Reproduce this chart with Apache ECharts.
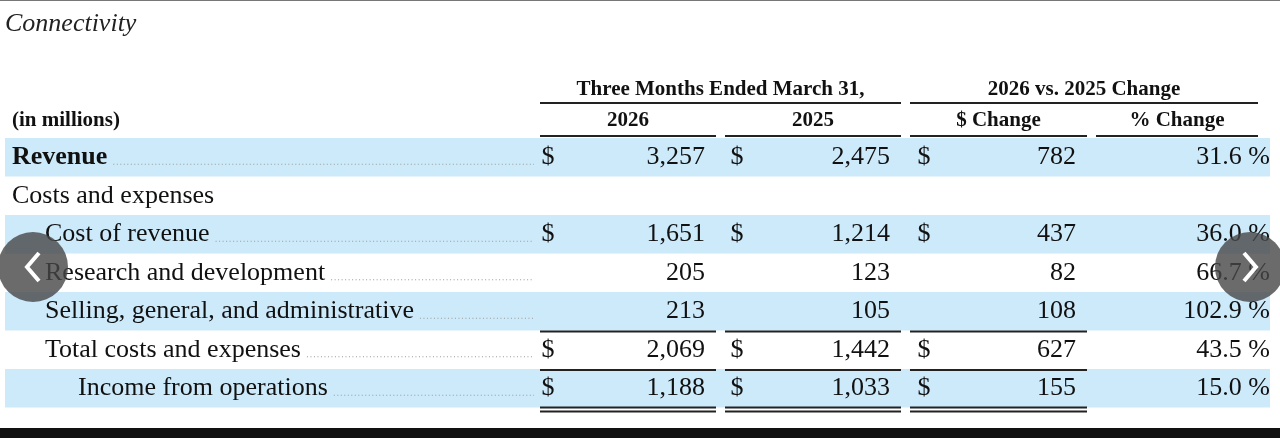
<!DOCTYPE html>
<html><head><meta charset="utf-8">
<script src="https://cdn.jsdelivr.net/npm/echarts@6/dist/echarts.min.js"></script>
<style>html,body{margin:0;padding:0;background:#fff}#c{width:1280px;height:438px}</style>
</head><body><div id="c"></div>
<script>
const title = "Connectivity";
const groupHeaders = ["Three Months Ended March 31,", "2026 vs. 2025 Change"];
const colHeaders = ["2026", "2025", "$ Change", "% Change"];
const unitsLabel = "(in millions)";
const rowLabels = ["Revenue", "Costs and expenses", "Cost of revenue", "Research and development", "Selling, general, and administrative", "Total costs and expenses", "Income from operations"];
const v2026 = [3257, null, 1651, 205, 213, 2069, 1188];
const v2025 = [2475, null, 1214, 123, 105, 1442, 1033];
const changeAbs = [782, null, 437, 82, 108, 627, 155];
const changePct = [31.6, null, 36.0, 66.7, 102.9, 43.5, 15.0];
const showDollar = [true, false, true, false, false, true, true];

// layout (styles/positions)
const indent = [12, 12, 45, 45, 45, 45, 78];
const bold = [true, false, false, false, false, false, false];
const shaded = [true, false, true, false, true, false, true];
const hasLeader = [true, false, true, true, true, true, true];
const rowTop = 138, rowH = 38.5;
const FONT = '"Liberation Serif", "Times New Roman", serif';
const cols = [{l:540,r:716,d:548,v:705},{l:725,r:901,d:737,v:890},{l:910,r:1087,d:924,v:1076},{l:1096,r:1258,v:1270}];

const mctx = document.createElement('canvas').getContext('2d');
function tw(s, f){ mctx.font = f; return mctx.measureText(s).width; }
const fmt = v => v.toLocaleString('en-US');

const chart = echarts.init(document.getElementById('c'), null, {renderer:'canvas'});
function renderRow(params, api){
  const i = api.value(0);
  const y0 = api.coord([0, rowTop + i*rowH])[1];
  const yc = y0 + rowH/2;
  const X = x => api.coord([x, 0])[0];
  const ch = [];
  if (shaded[i]) ch.push({type:'rect', shape:{x:X(5), y:y0, width:X(1270)-X(5), height:rowH}, style:{fill:'#cdeafb'}});
  const lf = (bold[i]?'bold ':'') + '26px ' + FONT;
  ch.push({type:'text', style:{text:rowLabels[i], x:X(indent[i]), y:yc, font:lf, fill:'#111', verticalAlign:'middle'}});
  if (hasLeader[i]) {
    const sx = X(indent[i]) + tw(rowLabels[i], lf) + 6;
    ch.push({type:'line', shape:{x1:sx, y1:yc+7, x2:X(534), y2:yc+7}, style:{stroke:'#999', lineWidth:1, lineDash:[1,2.5]}});
  }
  const vals = [v2026[i], v2025[i], changeAbs[i]];
  const nf = '26px ' + FONT;
  vals.forEach((v, k) => {
    if (v == null) return;
    if (showDollar[i]) ch.push({type:'text', style:{text:'$', x:X(cols[k].d), y:yc, font:nf, fill:'#111', verticalAlign:'middle', align:'center'}});
    ch.push({type:'text', style:{text:fmt(v), x:X(cols[k].v), y:yc, font:nf, fill:'#111', verticalAlign:'middle', align:'right'}});
  });
  if (changePct[i] != null) ch.push({type:'text', style:{text:changePct[i].toFixed(1) + ' %', x:X(cols[3].v), y:yc, font:nf, fill:'#111', verticalAlign:'middle', align:'right'}});
  if (i === 5 || i === 6) for (let k=0;k<3;k++) ch.push({type:'line', shape:{x1:X(cols[k].l), y1:y0+1, x2:X(cols[k].r), y2:y0+1}, style:{stroke:'#222', lineWidth:2}});
  if (i === 6) for (let k=0;k<3;k++) {
    ch.push({type:'line', shape:{x1:X(cols[k].l), y1:y0+rowH, x2:X(cols[k].r), y2:y0+rowH}, style:{stroke:'#222', lineWidth:2}});
    ch.push({type:'line', shape:{x1:X(cols[k].l), y1:y0+rowH+4, x2:X(cols[k].r), y2:y0+rowH+4}, style:{stroke:'#222', lineWidth:2}});
  }
  return {type:'group', children:ch};
}
function renderHeader(params, api){
  const X = x => api.coord([x, 0])[0];
  const Y = y => api.coord([0, y])[1];
  const hf = 'bold 21px ' + FONT;
  const ch = [];
  ch.push({type:'text', style:{text:title, x:X(5), y:Y(24), font:'italic 26px ' + FONT, fill:'#222', verticalAlign:'middle'}});
  ch.push({type:'text', style:{text:groupHeaders[0], x:X((cols[0].l+cols[1].r)/2), y:Y(90), font:hf, fill:'#111', verticalAlign:'middle', align:'center'}});
  ch.push({type:'text', style:{text:groupHeaders[1], x:X((cols[2].l+cols[3].r)/2), y:Y(90), font:hf, fill:'#111', verticalAlign:'middle', align:'center'}});
  ch.push({type:'line', shape:{x1:X(cols[0].l), y1:Y(103), x2:X(cols[1].r), y2:Y(103)}, style:{stroke:'#222', lineWidth:2}});
  ch.push({type:'line', shape:{x1:X(cols[2].l), y1:Y(103), x2:X(cols[3].r), y2:Y(103)}, style:{stroke:'#222', lineWidth:2}});
  ch.push({type:'text', style:{text:unitsLabel, x:X(12), y:Y(121), font:hf, fill:'#111', verticalAlign:'middle'}});
  cols.forEach((c, k) => {
    ch.push({type:'text', style:{text:colHeaders[k], x:X((c.l+c.r)/2), y:Y(121), font:hf, fill:'#111', verticalAlign:'middle', align:'center'}});
    ch.push({type:'line', shape:{x1:X(c.l), y1:Y(136), x2:X(c.r), y2:Y(136)}, style:{stroke:'#222', lineWidth:2}});
  });
  ch.push({type:'line', shape:{x1:X(0), y1:Y(0.5), x2:X(1280), y2:Y(0.5)}, style:{stroke:'#777', lineWidth:1}});
  ch.push({type:'rect', shape:{x:X(0), y:Y(428), width:X(1280)-X(0), height:Y(438)-Y(428)}, style:{fill:'#111'}});
  [[33,'<'],[1250,'>']].forEach(([cx, s]) => {
    ch.push({type:'circle', shape:{cx:X(cx), cy:Y(267), r:35}, style:{fill:'rgba(70,70,70,0.8)'}});
    const d = s === '<' ? -1 : 1;
    ch.push({type:'polyline', shape:{points:[[X(cx)-6*d, Y(253)], [X(cx)+6*d, Y(267)], [X(cx)-6*d, Y(281)]]}, style:{stroke:'#fff', lineWidth:4, fill:null}});
  });
  return {type:'group', children:ch};
}
chart.setOption({
  animation:false,
  grid:{left:0, right:0, top:0, bottom:0},
  xAxis:{type:'value', min:0, max:1280, show:false},
  yAxis:{type:'value', min:0, max:438, inverse:true, show:false},
  series:[
    {type:'custom', renderItem:renderRow, data:rowLabels.map((_, i) => [i]), z:1},
    {type:'custom', renderItem:renderHeader, data:[[0]], z:2}
  ]
});
</script></body></html>
